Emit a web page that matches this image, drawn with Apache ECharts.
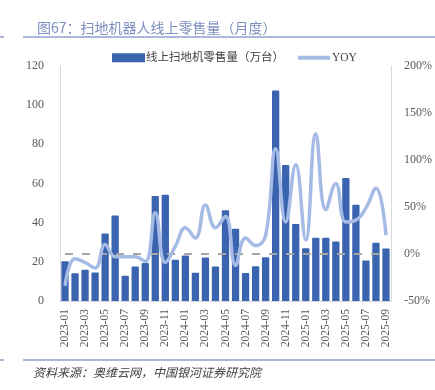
<!DOCTYPE html>
<html>
<head>
<meta charset="utf-8">
<script src="https://cdn.jsdelivr.net/npm/echarts@6/dist/echarts.min.js"></script>
<style>html,body{margin:0;padding:0;background:#fff;}#c{width:435px;height:390px;}</style>
</head>
<body>
<div id="c"></div>
<script>
const categories = [
  '2023-01','2023-02','2023-03','2023-04','2023-05','2023-06','2023-07','2023-08','2023-09','2023-10','2023-11','2023-12',
  '2024-01','2024-02','2024-03','2024-04','2024-05','2024-06','2024-07','2024-08','2024-09','2024-10','2024-11','2024-12',
  '2025-01','2025-02','2025-03','2025-04','2025-05','2025-06','2025-07','2025-08','2025-09'
];
const salesValues = [
  20.3, 14.2, 16.0, 14.5, 34.5, 43.7, 12.9, 17.6, 19.4, 53.6, 54.3, 21.1,
  23.2, 14.4, 22.2, 17.6, 46.4, 36.9, 14.3, 17.8, 22.4, 107.5, 69.5, 39.3,
  27.0, 32.3, 32.3, 30.4, 62.8, 49.2, 20.7, 29.8, 26.8
];
const yoyValues = [
  -34, -5, -9, -15, 10, -3, -3, -3, -8, 44, -9, 8,
  28, 17, 52, 28, 40, -12, 17, 9, 20, 112, 34, 95,
  15, 128, 47, 75, 34, 36, 49, 70, 20
];
const leftTicks = {min: 0, max: 120, interval: 20};
const rightTicks = {min: -50, max: 200, interval: 50};
const zeroLevel = 0;

const serif = '"Liberation Serif", "Noto Sans CJK SC", serif';
const chart = echarts.init(document.getElementById('c'), null, {renderer: 'canvas'});
chart.setOption({
  animation: false,
  backgroundColor: '#ffffff',
  title: {
    text: '图67：扫地机器人线上零售量（月度）',
    left: 32, top: 16,
    textStyle: {fontSize: 14, fontWeight: 'normal', color: '#7D8FC0', fontFamily: '"Noto Sans CJK SC", sans-serif'}
  },
  graphic: [
    {type: 'line', shape: {x1: 23, y1: 37, x2: 435, y2: 37}, style: {stroke: '#8EA2CF', lineWidth: 1.5}},
    {type: 'line', shape: {x1: 0, y1: 37, x2: 4, y2: 37}, style: {stroke: '#8EA2CF', lineWidth: 1.5}},
    {type: 'line', shape: {x1: 23, y1: 360, x2: 435, y2: 360}, style: {stroke: '#8EA2CF', lineWidth: 1.5}},
    {type: 'line', shape: {x1: 0, y1: 360, x2: 4, y2: 360}, style: {stroke: '#8EA2CF', lineWidth: 1.5}},
    {type: 'text', left: 33, top: 366, style: {text: '资料来源：奥维云网，中国银河证券研究院', fontSize: 12, fontStyle: 'italic', fill: '#404040', fontFamily: '"Noto Sans CJK SC", sans-serif'}}
  ],
  legend: [
    {
      left: 107, top: 47,
      itemWidth: 33, itemHeight: 9,
      textStyle: {fontSize: 11.5, color: '#404040', fontFamily: serif, padding: [0, 0, 0, -4]},
      data: [{name: '线上扫地机零售量（万台）', icon: 'rect'}]
    },
    {
      left: 293, top: 47,
      itemWidth: 32, itemHeight: 4,
      textStyle: {fontSize: 11.5, color: '#404040', fontFamily: serif, padding: [0, 0, 0, -3]},
      data: [{name: 'YOY', icon: 'rect', itemStyle: {color: '#A5BBE6'}}]
    }
  ],
  grid: {left: 60, right: 44, top: 66, bottom: 89},
  xAxis: {
    type: 'category',
    data: categories,
    axisTick: {show: false},
    axisLine: {lineStyle: {color: '#D9D9D9', width: 1}},
    axisLabel: {rotate: 90, interval: 1, fontSize: 11.5, color: '#595959', fontFamily: serif, margin: 8}
  },
  yAxis: [
    {
      type: 'value', min: leftTicks.min, max: leftTicks.max, interval: leftTicks.interval,
      splitLine: {show: false},
      axisLine: {show: true, lineStyle: {color: '#D9D9D9'}},
      axisTick: {show: false},
      axisLabel: {fontSize: 12, color: '#595959', fontFamily: serif, margin: 16}
    },
    {
      type: 'value', min: rightTicks.min, max: rightTicks.max, interval: rightTicks.interval,
      splitLine: {show: false},
      axisLine: {show: true, lineStyle: {color: '#D9D9D9'}},
      axisTick: {show: false},
      axisLabel: {fontSize: 12, color: '#595959', fontFamily: serif, margin: 13, formatter: '{value}%'}
    }
  ],
  series: [
    {
      name: '线上扫地机零售量（万台）',
      type: 'bar',
      data: salesValues,
      barWidth: 7.3,
      itemStyle: {color: '#3A64B0', borderRadius: [1, 1, 0, 0]}
    },
    {
      name: 'YOY',
      type: 'line',
      yAxisIndex: 1,
      data: yoyValues,
      smooth: 0.45,
      symbol: 'none',
      showSymbol: false,
      lineStyle: {color: '#A5BBE6', width: 3.5},
      itemStyle: {color: '#A5BBE6'},
      z: 5,
      markLine: {
        silent: true,
        symbol: ['none', 'none'],
        label: {show: false},
        lineStyle: {color: '#A6A6A6', width: 2.2, type: [8, 9]},
        data: [[{coord: [categories[0], zeroLevel]}, {coord: [categories[categories.length - 1], zeroLevel]}]]
      }
    }
  ]
});
</script>
</body>
</html>
